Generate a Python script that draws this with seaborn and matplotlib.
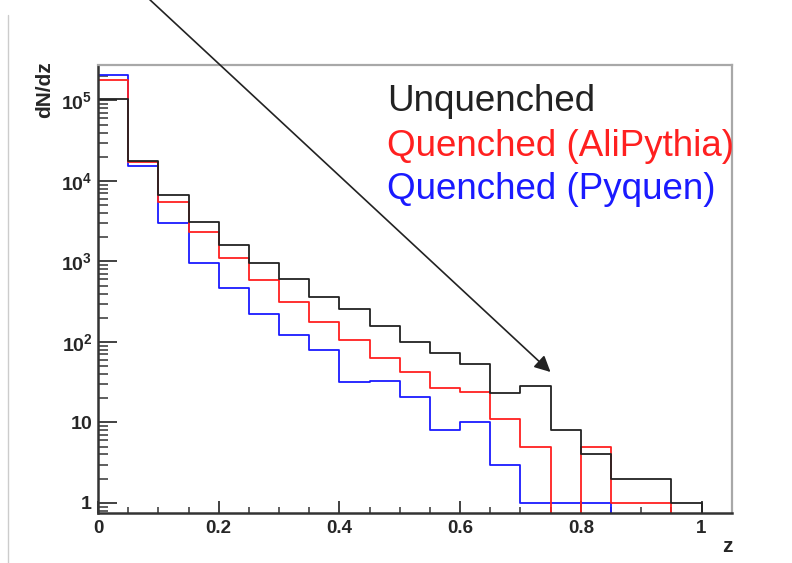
import numpy as np
import pandas as pd
import matplotlib
matplotlib.use("Agg")
import matplotlib.pyplot as plt
import matplotlib.ticker as mticker
from matplotlib.lines import Line2D
import seaborn as sns

# ---- data ----
bin_edges = [round(0.05 * i, 2) for i in range(22)]  # 0 .. 1.05
unquenched = [1.05e5, 1.75e4, 6.7e3, 3.1e3, 1.6e3, 960, 610, 363, 257, 157,
              99, 73, 54, 23, 28, 8, 4, 2, 2, 1, 0]
quenched_alipythia = [1.78e5, 1.7e4, 5.5e3, 2.34e3, 1.1e3, 590, 318, 178, 107, 64,
                      42, 27, 24, 11, 5, 0, 5, 1, 1, 0, 0]
quenched_pyquen = [2.07e5, 1.53e4, 3.0e3, 960, 465, 220, 122, 80, 32, 33,
                   21, 8, 10, 3, 1, 1, 1, 0, 0, 0, 0]
series_names = ["Unquenched", "Quenched (AliPythia)", "Quenched (Pyquen)"]
series_colors = ["#222222", "#ff2020", "#1a1aff"]
x_ticks = [0, 0.2, 0.4, 0.6, 0.8, 1]
x_tick_labels = ["0", "0.2", "0.4", "0.6", "0.8", "1"]

centers = [(bin_edges[i] + bin_edges[i + 1]) / 2 for i in range(len(bin_edges) - 1)]
rows = []
for name, vals in zip(series_names, [unquenched, quenched_alipythia, quenched_pyquen]):
    for c, v in zip(centers, vals):
        rows.append({"z": c, "w": v, "series": name})
df = pd.DataFrame(rows)

sns.set_theme(style="white")
plt.rcParams["font.family"] = ["Liberation Sans", "DejaVu Sans"]
plt.rcParams["mathtext.fontset"] = "custom"
plt.rcParams["mathtext.rm"] = "Liberation Sans:bold"
plt.rcParams["mathtext.bf"] = "Liberation Sans:bold"
plt.rcParams["mathtext.it"] = "Liberation Sans:bold"

fig = plt.figure(figsize=(7.92, 5.63), dpi=100)
ax = fig.add_axes([98 / 792, 1 - 513 / 563, (731.7 - 98) / 792, (513 - 65) / 563])

palette = dict(zip(series_names, series_colors))
sns.histplot(data=df, x="z", weights="w", hue="series", bins=bin_edges,
             element="step", fill=False, palette=palette, legend=False,
             linewidth=1.3, ax=ax, hue_order=series_names)

ax.set_yscale("log")
ax.set_xlim(0, 1.05)
ax.set_ylim(0.75, 2.76e5)

def yfmt(v, pos):
    if v <= 0:
        return ""
    k = int(round(np.log10(v)))
    if k == 0:
        return r"$\mathbf{1}$"
    if k == 1:
        return r"$\mathbf{10}$"
    return r"$\mathbf{10^{%d}}$" % k

ax.yaxis.set_major_locator(mticker.LogLocator(base=10, numticks=10))
ax.yaxis.set_minor_locator(mticker.LogLocator(base=10, subs=np.arange(2, 10), numticks=20))
ax.yaxis.set_major_formatter(mticker.FuncFormatter(yfmt))
ax.yaxis.set_minor_formatter(mticker.NullFormatter())

ax.set_xticks(x_ticks)
ax.set_xticklabels(x_tick_labels, fontweight="bold", fontsize=13.5)
ax.xaxis.set_minor_locator(mticker.MultipleLocator(0.05))

ax.tick_params(axis="y", which="major", direction="in", length=14, width=1.3,
               labelsize=14, pad=4, color="#333333", left=True, right=False)
ax.tick_params(axis="y", which="minor", direction="in", length=7, width=1.1,
               color="#333333", left=True, right=False)
ax.tick_params(axis="x", which="major", direction="in", length=9, width=1.3,
               labelsize=13.5, pad=5, color="#333333", bottom=True, top=False)
ax.tick_params(axis="x", which="minor", direction="in", length=4.5, width=1.1,
               color="#333333", bottom=True, top=False)
for lab in ax.get_yticklabels():
    lab.set_fontweight("bold")

for side in ["left", "bottom"]:
    ax.spines[side].set_color("#333333")
    ax.spines[side].set_linewidth(1.8)
for side in ["top", "right"]:
    ax.spines[side].set_color("#a8a8a8")
    ax.spines[side].set_linewidth(1.6)

ax.set_xlabel("z", fontweight="bold", fontsize=15)
ax.xaxis.set_label_coords((727 - 98) / 633.7, (513 - 546) / 448)
ax.xaxis.label.set_va("center")
ax.set_ylabel("dN/dz", fontweight="bold", fontsize=15)
ax.yaxis.set_label_coords((45 - 98) / 633.7, (513 - 90) / 448)
ax.yaxis.label.set_va("center")

# legend-like text
for name, col, yy in zip(series_names, series_colors, [102, 147, 190]):
    fig.text(387 / 792, 1 - yy / 563, name, color=col, fontsize=26.5,
             ha="left", va="center")

# arrow
ax.annotate("", xy=(550.5, 563 - 372), xycoords="figure pixels",
            xytext=(148, 565), textcoords="figure pixels",
            arrowprops=dict(arrowstyle="-|>", mutation_scale=24, lw=1.2,
                            color="#222222", shrinkA=0, shrinkB=0),
            annotation_clip=False)

# thin slide border line on the left
fig.add_artist(Line2D([8 / 792, 8 / 792], [0, 1 - 15 / 563], color="#cccccc",
                      lw=1.0, transform=fig.transFigure))

fig.savefig("out.png", dpi=100)
